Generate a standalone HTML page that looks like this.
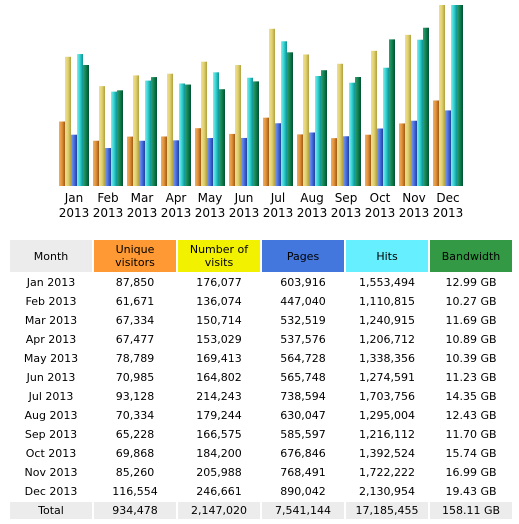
<!DOCTYPE html>
<html><head><meta charset="utf-8">
<style>
body{margin:0;background:#fff;width:519px;height:524px;overflow:hidden;font-family:"DejaVu Sans","Liberation Sans",sans-serif;}
#chart{position:absolute;left:0;top:0;}
table{position:absolute;left:8px;top:238px;border-collapse:separate;border-spacing:2px;table-layout:fixed;font-size:11px;color:#000;}
td,th{width:82px;padding:0;text-align:center;font-weight:normal;}
th{height:32px;line-height:13px;}
td{height:17px;line-height:17px;}
tr.total td{background:#ececec;}
</style></head><body>
<svg id="chart" width="519" height="230" xmlns="http://www.w3.org/2000/svg">
<defs>
<linearGradient id="gU" x1="0" x2="1"><stop offset="0" stop-color="#f0b060"/><stop offset="0.5" stop-color="#e0903a"/><stop offset="1" stop-color="#a05a10"/></linearGradient>
<linearGradient id="gV" x1="0" x2="1"><stop offset="0" stop-color="#f0e090"/><stop offset="0.5" stop-color="#e0d070"/><stop offset="1" stop-color="#b0a040"/></linearGradient>
<linearGradient id="gP" x1="0" x2="1"><stop offset="0" stop-color="#80a0f0"/><stop offset="0.5" stop-color="#4a70e0"/><stop offset="1" stop-color="#2040a0"/></linearGradient>
<linearGradient id="gH" x1="0" x2="1"><stop offset="0" stop-color="#80f0f0"/><stop offset="0.5" stop-color="#30d0d0"/><stop offset="1" stop-color="#109090"/></linearGradient>
<linearGradient id="gB" x1="0" x2="1"><stop offset="0" stop-color="#30a070"/><stop offset="0.5" stop-color="#108050"/><stop offset="1" stop-color="#005030"/></linearGradient>
</defs>
<g id="bars"></g><g id="labels"></g>
</svg>
<table>
<tr>
<th style="background:#ececec">Month</th>
<th style="background:#ff9933">Unique<br>visitors</th>
<th style="background:#f2f200">Number of<br>visits</th>
<th style="background:#4477dd">Pages</th>
<th style="background:#66f0ff">Hits</th>
<th style="background:#339944">Bandwidth</th>
</tr>
<tr><td>Jan 2013</td><td>87,850</td><td>176,077</td><td>603,916</td><td>1,553,494</td><td>12.99 GB</td></tr>
<tr><td>Feb 2013</td><td>61,671</td><td>136,074</td><td>447,040</td><td>1,110,815</td><td>10.27 GB</td></tr>
<tr><td>Mar 2013</td><td>67,334</td><td>150,714</td><td>532,519</td><td>1,240,915</td><td>11.69 GB</td></tr>
<tr><td>Apr 2013</td><td>67,477</td><td>153,029</td><td>537,576</td><td>1,206,712</td><td>10.89 GB</td></tr>
<tr><td>May 2013</td><td>78,789</td><td>169,413</td><td>564,728</td><td>1,338,356</td><td>10.39 GB</td></tr>
<tr><td>Jun 2013</td><td>70,985</td><td>164,802</td><td>565,748</td><td>1,274,591</td><td>11.23 GB</td></tr>
<tr><td>Jul 2013</td><td>93,128</td><td>214,243</td><td>738,594</td><td>1,703,756</td><td>14.35 GB</td></tr>
<tr><td>Aug 2013</td><td>70,334</td><td>179,244</td><td>630,047</td><td>1,295,004</td><td>12.43 GB</td></tr>
<tr><td>Sep 2013</td><td>65,228</td><td>166,575</td><td>585,597</td><td>1,216,112</td><td>11.70 GB</td></tr>
<tr><td>Oct 2013</td><td>69,868</td><td>184,200</td><td>676,846</td><td>1,392,524</td><td>15.74 GB</td></tr>
<tr><td>Nov 2013</td><td>85,260</td><td>205,988</td><td>768,491</td><td>1,722,222</td><td>16.99 GB</td></tr>
<tr><td>Dec 2013</td><td>116,554</td><td>246,661</td><td>890,042</td><td>2,130,954</td><td>19.43 GB</td></tr>
<tr class="total"><td>Total</td><td>934,478</td><td>2,147,020</td><td>7,541,144</td><td>17,185,455</td><td>158.11 GB</td></tr>
</table>
<script>
const months=["Jan","Feb","Mar","Apr","May","Jun","Jul","Aug","Sep","Oct","Nov","Dec"];
const uniqueVisitors=[87850,61671,67334,67477,78789,70985,93128,70334,65228,69868,85260,116554];
const visits=[176077,136074,150714,153029,169413,164802,214243,179244,166575,184200,205988,246661];
const pages=[603916,447040,532519,537576,564728,565748,738594,630047,585597,676846,768491,890042];
const hits=[1553494,1110815,1240915,1206712,1338356,1274591,1703756,1295004,1216112,1392524,1722222,2130954];
const bandwidth=[12.99,10.27,11.69,10.89,10.39,11.23,14.35,12.43,11.70,15.74,16.99,19.43];
const NS="http://www.w3.org/2000/svg";
const base=186,maxH=181,x0=59,pitch=34,bw=6;
const maxV=Math.max(...visits,...uniqueVisitors),maxHits=Math.max(...hits,...pages),maxB=Math.max(...bandwidth);
const series=[[uniqueVisitors,maxV,"gU","unique"],[visits,maxV,"gV","visits"],[pages,maxHits,"gP","pages"],[hits,maxHits,"gH","hits"],[bandwidth,maxB,"gB","bandwidth"]];
const gb=document.getElementById('bars'),gl=document.getElementById('labels');
months.forEach((m,i)=>{
  series.forEach((s,j)=>{
    const h=s[0][i]/s[1]*maxH;
    const r=document.createElementNS(NS,'rect');
    r.setAttribute('x',x0+i*pitch+j*bw);r.setAttribute('y',base-h);
    r.setAttribute('width',bw);r.setAttribute('height',h);r.setAttribute('fill','url(#'+s[2]+')');
    
    
    gb.appendChild(r);
  });
  [[m,202],["2013",217]].forEach(([t,y])=>{
    const tx=document.createElementNS(NS,'text');
    tx.setAttribute('x',x0+i*pitch+15);tx.setAttribute('y',y);
    tx.setAttribute('text-anchor','middle');tx.setAttribute('font-size','12');
    tx.setAttribute('font-family','DejaVu Sans, Liberation Sans, sans-serif');
    tx.textContent=t;
    
    
    gl.appendChild(tx);
  });
});
</script>
</body></html>
